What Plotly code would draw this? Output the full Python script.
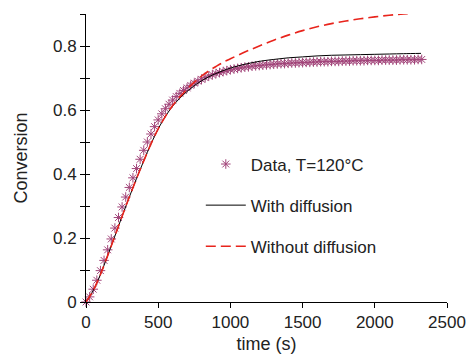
import plotly.graph_objects as go

# Experimental data (time in s, conversion)
t_data = [0, 25, 50, 75, 100, 125, 150, 175, 200, 225, 250, 275, 300, 325, 350, 375,
          400, 425, 450, 475, 500, 525, 550, 575, 600, 625, 650, 675, 700, 725, 750, 775,
          800, 825, 850, 875, 900, 925, 950, 975, 1000, 1025, 1050, 1075, 1100, 1125, 1150, 1175,
          1200, 1225, 1250, 1275, 1300, 1325, 1350, 1375, 1400, 1425, 1450, 1475, 1500, 1525, 1550, 1575,
          1600, 1625, 1650, 1675, 1700, 1725, 1750, 1775, 1800, 1825, 1850, 1875, 1900, 1925, 1950, 1975,
          2000, 2025, 2050, 2075, 2100, 2125, 2150, 2175, 2200, 2225, 2250, 2275, 2300, 2325]
conv_data = [0.000, 0.016, 0.040, 0.068, 0.098, 0.130, 0.163, 0.197, 0.231, 0.264, 0.297, 0.328, 0.358, 0.388, 0.417, 0.446,
             0.474, 0.500, 0.525, 0.548, 0.569, 0.588, 0.604, 0.618, 0.631, 0.642, 0.652, 0.661, 0.669, 0.677, 0.684, 0.690,
             0.696, 0.701, 0.706, 0.710, 0.714, 0.717, 0.720, 0.723, 0.726, 0.728, 0.730, 0.732, 0.734, 0.735, 0.737, 0.738,
             0.739, 0.740, 0.741, 0.742, 0.743, 0.744, 0.745, 0.745, 0.746, 0.747, 0.747, 0.748, 0.748, 0.749, 0.749, 0.750,
             0.750, 0.751, 0.751, 0.751, 0.752, 0.752, 0.752, 0.753, 0.753, 0.753, 0.754, 0.754, 0.754, 0.754, 0.755, 0.755,
             0.755, 0.755, 0.756, 0.756, 0.756, 0.756, 0.756, 0.757, 0.757, 0.757, 0.757, 0.757, 0.758, 0.758]

# Model curves
t_model = [0, 50, 100, 150, 200, 250, 300, 350, 400, 450, 500, 550, 600, 650, 700, 750, 800, 850, 900, 950,
           1000, 1100, 1200, 1300, 1400, 1500, 1600, 1700, 1800, 1900, 2000, 2100, 2200, 2320]
conv_with_diff = [0.000, 0.036, 0.086, 0.145, 0.206, 0.268, 0.328, 0.386, 0.441, 0.494, 0.541, 0.580, 0.612, 0.637, 0.658, 0.676,
                  0.691, 0.704, 0.714, 0.723, 0.731, 0.743, 0.752, 0.758, 0.763, 0.766, 0.769, 0.771, 0.772, 0.773, 0.774, 0.775, 0.776, 0.777]
conv_without_diff = [0.000, 0.036, 0.086, 0.145, 0.206, 0.268, 0.328, 0.386, 0.441, 0.494, 0.541, 0.580, 0.614, 0.641, 0.665, 0.687,
                     0.706, 0.722, 0.736, 0.749, 0.760, 0.781, 0.800, 0.818, 0.834, 0.848, 0.860, 0.870, 0.878, 0.885, 0.891, 0.896, 0.900, 0.905]

x_ticks = [0, 500, 1000, 1500, 2000, 2500]
y_ticks = [0, 0.2, 0.4, 0.6, 0.8]
y_tick_text = ["0", "0.2", "0.4", "0.6", "0.8"]

FONT = "Liberation Sans, Arial, sans-serif"

fig = go.Figure()
fig.add_trace(go.Scatter(
    x=t_data, y=conv_data, mode="markers", name="Data, T=120°C",
    marker=dict(symbol="asterisk-open", size=8, color="#a2457a",
                line=dict(color="#a2457a", width=1)),
    cliponaxis=False, legendgroup="a"))
fig.add_trace(go.Scatter(
    x=t_model, y=conv_with_diff, mode="lines", name="With diffusion",
    line=dict(color="black", width=1, shape="spline"), legendgroup="b"))
fig.add_trace(go.Scatter(
    x=t_model, y=conv_without_diff, mode="lines", name="Without diffusion",
    line=dict(color="#e8241c", width=1.6, dash="10px,5px", shape="spline"),
    cliponaxis=False, legendgroup="c"))
# helper trace so that the inner tick axis is drawn
fig.add_trace(go.Scatter(x=[0], y=[0], yaxis="y2", mode="markers", marker=dict(opacity=0),
                         showlegend=False, hoverinfo="skip"))

fig.update_layout(
    width=468, height=358,
    margin=dict(l=86, r=21, t=14, b=56),
    paper_bgcolor="white", plot_bgcolor="white",
    font=dict(family=FONT, size=17, color="#222"),
    showlegend=True,
    legend=dict(x=0.318, y=0.54, xanchor="left", yanchor="top",
                bgcolor="rgba(0,0,0,0)", font=dict(size=17, family=FONT),
                tracegroupgap=16, traceorder="grouped", itemwidth=40),
    xaxis=dict(range=[0, 2500], tickvals=x_ticks, showgrid=False, zeroline=False,
               showline=True, linecolor="black", linewidth=1, automargin=False,
               ticks="outside", ticklen=5, tickcolor="black",
               title=dict(text="time (s)", font=dict(size=18), standoff=5)),
    yaxis=dict(range=[0, 0.9], tickvals=y_ticks, ticktext=y_tick_text,
               showgrid=False, zeroline=False, automargin=False,
               showline=True, linecolor="black", linewidth=1,
               ticks="outside", ticklen=5, tickcolor="black",
               minor=dict(dtick=0.1, tick0=0, ticks="outside", ticklen=5, tickcolor="black", showgrid=False),
               title=dict(text="Conversion", font=dict(size=18), standoff=20)),
    yaxis2=dict(range=[0, 0.9], overlaying="y", side="left", dtick=0.1, tick0=0, automargin=False,
                showticklabels=False, showgrid=False, zeroline=False, showline=False,
                ticks="inside", ticklen=4, tickcolor="black"),
)

fig.write_html("out.html")
